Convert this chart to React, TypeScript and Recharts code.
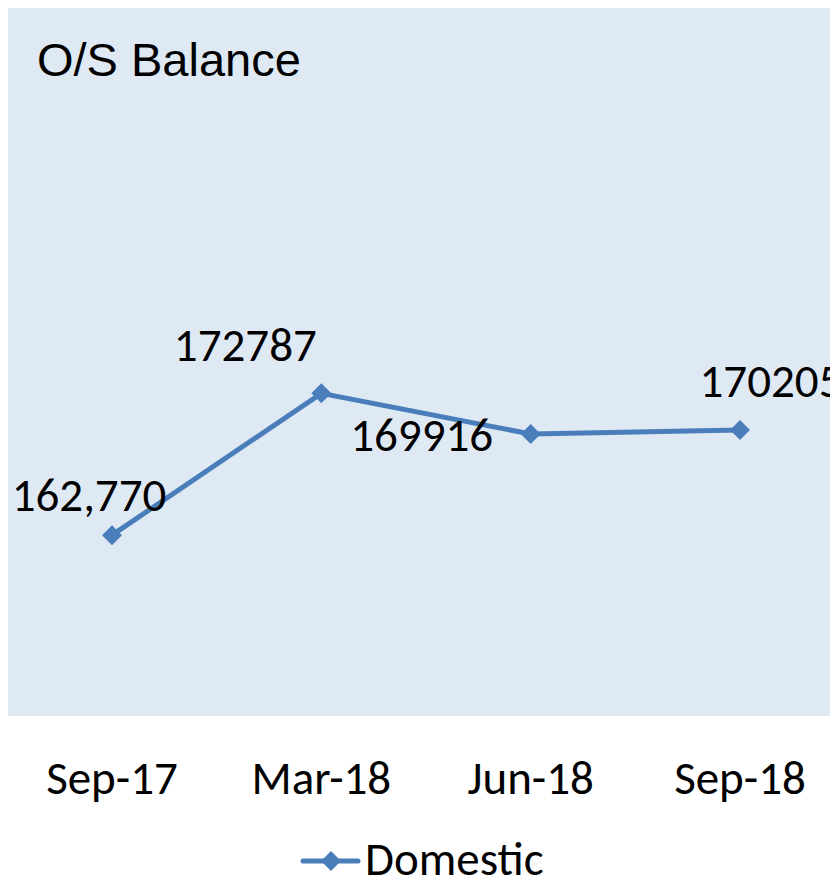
import { LineChart, Line, XAxis, YAxis, CartesianGrid, Legend, LabelList } from "recharts";

const months = ["Sep-17", "Mar-18", "Jun-18", "Sep-18"];
const domestic = [162770, 172787, 169916, 170205];
const pointLabels = ["162,770", "172787", "169916", "170205"];

const data = months.map((month, i) => ({
  month,
  domestic: domestic[i],
  label: pointLabels[i],
}));

// where each data label sits relative to its point (centre x, baseline y)
const labelOffsets = [
  [-23, -24],
  [-76, -32],
  [-109, 17],
  [31, -33],
];

const BLUE = "#4A7EBB";
const CALIBRI = "Carlito, 'Open Sans', sans-serif";

const Diamond = (props: any) => {
  const { cx, cy, index } = props;
  if (cx == null || cy == null) return null;
  const r = 10;
  return (
    <path
      key={`dot-${index}`}
      d={`M${cx},${cy - r}L${cx + r},${cy}L${cx},${cy + r}L${cx - r},${cy}Z`}
      fill={BLUE}
    />
  );
};

const PointLabel = (props: any) => {
  const { x, y, index, value } = props;
  const [dx, dy] = labelOffsets[index] || [0, 0];
  return (
    <text
      x={x + dx}
      y={y + dy}
      textAnchor="middle"
      fontFamily={CALIBRI}
      fontSize={47}
      fill="#000"
    >
      {value}
    </text>
  );
};

const MonthTick = (props: any) => {
  const { x, y, payload } = props;
  return (
    <text x={x} y={y + 78} textAnchor="middle" fontFamily={CALIBRI} fontSize={47} fill="#000">
      {payload.value}
    </text>
  );
};

const LegendContent = () => (
  <svg width={836} height={44} style={{ display: "block", overflow: "visible" }}>
    <line x1={295} y1={23} x2={350} y2={23} stroke={BLUE} strokeWidth={5} strokeLinecap="round" />
    <path d="M323,13L333,23L323,33L313,23Z" fill={BLUE} />
    <text x={357} y={37} fontFamily={CALIBRI} fontSize={47} fill="#000">
      Domestic
    </text>
  </svg>
);

export default function App() {
  return (
    <div style={{ position: "relative", width: 830, height: 874, overflow: "hidden" }}>
      <LineChart
        width={836}
        height={874}
        data={data}
        margin={{ top: 0, right: 0, bottom: 121, left: 0 }}
      >
        <CartesianGrid horizontal={false} vertical={false} fill="#DFE9F4" />
        <XAxis
          dataKey="month"
          axisLine={false}
          tickLine={false}
          tickSize={0}
          tickMargin={0}
          interval={0}
          height={1}
          padding={{ left: 104, right: 104 }}
          tick={<MonthTick />}
        />
        <YAxis hide domain={[150000, 200000]} />
        <Legend
          height={44}
          wrapperStyle={{ top: 830, left: 0, width: 836 }}
          content={<LegendContent />}
        />
        <Line
          dataKey="domestic"
          stroke={BLUE}
          strokeWidth={5}
          dot={<Diamond />}
          activeDot={false}
          isAnimationActive={false}
        >
          <LabelList dataKey="label" content={<PointLabel />} />
        </Line>
      </LineChart>
      <div
        style={{
          position: "absolute",
          left: 29,
          top: 28,
          fontFamily: "'Liberation Sans', Arial, sans-serif",
          fontSize: 47,
          lineHeight: "47px",
          color: "#000",
          whiteSpace: "nowrap",
        }}
      >
        O/S Balance
      </div>
    </div>
  );
}
